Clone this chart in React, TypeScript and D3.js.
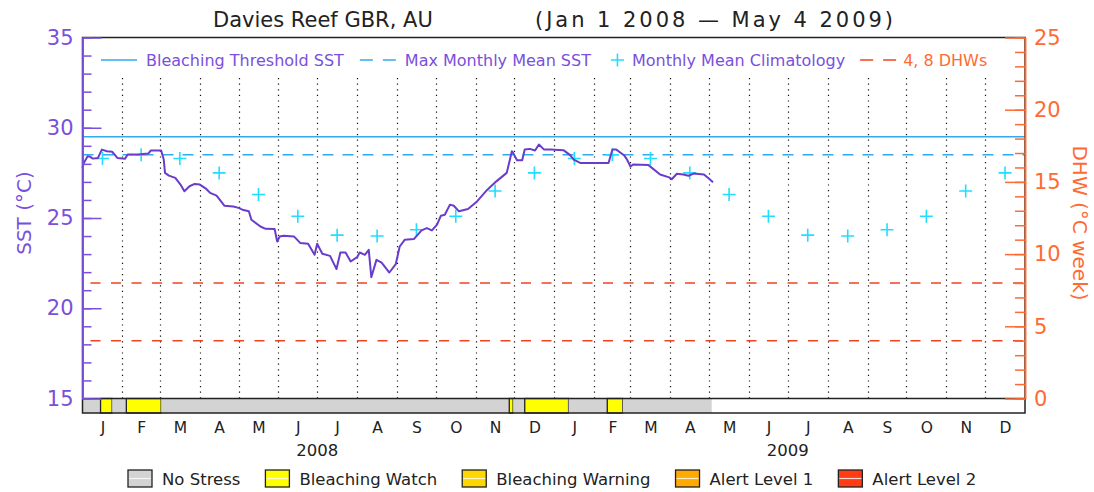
import React from "react";
import * as d3 from "d3";

// -- DATA --
const titleSite = "Davies Reef GBR, AU";
const titleRange = "(Jan 1 2008 \u2014 May 4 2009)";

const sstDates = [
  "2008-01-01", "2008-01-02", "2008-01-05", "2008-01-07", "2008-01-09", "2008-01-13",
  "2008-01-16", "2008-01-20", "2008-01-24", "2008-01-28", "2008-02-03", "2008-02-05",
  "2008-02-13", "2008-02-21", "2008-02-23", "2008-03-02", "2008-03-04", "2008-03-05",
  "2008-03-08", "2008-03-13", "2008-03-17", "2008-03-20", "2008-03-24", "2008-03-28",
  "2008-04-01", "2008-04-06", "2008-04-09", "2008-04-14", "2008-04-20", "2008-04-27",
  "2008-05-01", "2008-05-04", "2008-05-09", "2008-05-11", "2008-05-18", "2008-05-22",
  "2008-05-29", "2008-05-31", "2008-06-02", "2008-06-05", "2008-06-13", "2008-06-18",
  "2008-06-24", "2008-06-29", "2008-07-01", "2008-07-05", "2008-07-11", "2008-07-16",
  "2008-07-19", "2008-07-23", "2008-07-27", "2008-08-01", "2008-08-03", "2008-08-07",
  "2008-08-10", "2008-08-12", "2008-08-16", "2008-08-20", "2008-08-26", "2008-08-31",
  "2008-09-03", "2008-09-07", "2008-09-14", "2008-09-20", "2008-09-24", "2008-09-28",
  "2008-10-02", "2008-10-05", "2008-10-08", "2008-10-12", "2008-10-15", "2008-10-19",
  "2008-10-26", "2008-11-02", "2008-11-10", "2008-11-17", "2008-11-25", "2008-11-26",
  "2008-11-29", "2008-11-30", "2008-12-03", "2008-12-07", "2008-12-09", "2008-12-13",
  "2008-12-17", "2008-12-20", "2008-12-24", "2008-12-29", "2009-01-08", "2009-01-13",
  "2009-01-16", "2009-01-21", "2009-02-12", "2009-02-15", "2009-02-18", "2009-02-24",
  "2009-02-26", "2009-03-01", "2009-03-03", "2009-03-15", "2009-03-24", "2009-03-31",
  "2009-04-02", "2009-04-06", "2009-04-11", "2009-04-15", "2009-04-19", "2009-04-27",
  "2009-05-01", "2009-05-04"
];
const sstValues = [
  27.78, 28.05, 28.42, 28.39, 28.29, 28.33,
  28.79, 28.7, 28.67, 28.33, 28.28, 28.52,
  28.52, 28.57, 28.74, 28.74, 28.24, 27.5,
  27.35, 27.22, 26.85, 26.48, 26.76, 26.89,
  26.85, 26.61, 26.39, 26.24, 25.68, 25.64,
  25.56, 25.46, 25.37, 24.9, 24.53, 24.4,
  24.39, 23.7, 23.98, 24.02, 23.98, 23.61,
  23.57, 22.96, 23.57, 23.02, 22.9, 22.17,
  23.09, 23.09, 22.59, 22.83, 23.09, 22.96,
  23.24, 21.72, 22.68, 22.53, 21.98, 22.45,
  23.42, 23.8, 23.83, 24.31, 24.44, 24.31,
  24.63, 25.13, 25.18, 25.74, 25.68, 25.37,
  25.5, 25.92, 26.57, 27.03, 27.5, 27.78,
  28.7, 28.61, 28.2, 28.2, 28.79, 28.83,
  28.74, 29.07, 28.79, 28.79, 28.76, 28.5,
  28.24, 28.05, 28.05, 28.79, 28.79, 28.48,
  28.28, 27.85, 27.96, 27.93, 27.41, 27.25,
  27.15, 27.45, 27.41, 27.34, 27.46, 27.41,
  27.17, 26.98
];

// monthly mean climatology, Jan..Dec (same both years)
const climValues = [28.3, 28.5, 28.3, 27.5, 26.3, 25.1, 24.05, 24.0, 24.35, 25.1, 26.5, 27.5];
const bleachingThreshold = 29.5;
const maxMonthlyMean = 28.5;
const dhwLevels = [4, 8];

// bleaching status bar: segment starts and level index
const statusStarts = [
  "2008-01-01", "2008-01-15", "2008-01-24", "2008-02-04", "2008-03-02", "2008-11-27",
  "2008-11-30", "2008-12-09", "2009-01-12", "2009-02-11", "2009-02-23"
];
const statusLevels = [0, 1, 0, 1, 0, 1, 0, 1, 0, 1, 0];
const statusEnd = "2009-05-03";
const statusNames = ["No Stress", "Bleaching Watch", "Bleaching Warning", "Alert Level 1", "Alert Level 2"];
const statusColors = ["#d3d3d3", "#ffff00", "#ffd700", "#ffaa00", "#ff3c14"];

const monthLetters = ["J", "F", "M", "A", "M", "J", "J", "A", "S", "O", "N", "D"];
const years = [2008, 2009];
const sstTicks = [15, 20, 25, 30, 35];
const dhwTicks = [0, 5, 10, 15, 20, 25];

const App = () => {
  const svgRef = React.useRef(null);

  React.useEffect(() => {
    const svg = d3.select(svgRef.current);
    svg.selectAll("*").remove();
    const font = "DejaVu Sans, sans-serif";
    const purple = "#7a4fdc";
    const orange = "#ff6a33";
    const cyanLine = "#33aaee";
    const cyanMark = "#22ddff";
    const red = "#ee4422";

    const left = 82.5, right = 1025, top = 37.5, plotBottom = 398.5, barBottom = 413;
    const parse = d3.utcParse("%Y-%m-%d");
    const t0 = new Date(Date.UTC(2008, 0, 1));
    const t1 = new Date(Date.UTC(2010, 0, 1));

    const x = d3.scaleUtc().domain([t0, t1]).range([left, right]);
    const y = d3.scaleLinear().domain([15, 35]).range([plotBottom, top]);
    const yDhw = d3.scaleLinear().domain([0, 25]).range([plotBottom, top]);
    const monthStarts = d3.utcMonths(t0, d3.utcDay.offset(t1, 1));
    const midMonths = monthStarts.slice(0, -1).map((m, i) =>
      new Date((+m + +monthStarts[i + 1]) / 2)
    );

    // title
    svg.append("text").attr("x", 213).attr("y", 27).text(titleSite)
      .style("font-family", font).style("font-size", "21px").attr("fill", "#222");
    svg.append("text").attr("x", 535).attr("y", 27).text(titleRange)
      .attr("textLength", 358).attr("lengthAdjust", "spacing")
      .style("font-family", font).style("font-size", "21px").attr("fill", "#222");

    // monthly dotted grid
    svg.append("g").selectAll("line")
      .data(monthStarts.slice(1, -1))
      .enter().append("line")
      .attr("x1", (d) => Math.round(x(d)) + 0.5).attr("x2", (d) => Math.round(x(d)) + 0.5)
      .attr("y1", 78).attr("y2", plotBottom)
      .attr("stroke", "#111").attr("stroke-width", 1.2)
      .attr("stroke-dasharray", "1.2,4.4");

    // reference lines
    svg.append("line").attr("x1", left).attr("x2", right)
      .attr("y1", y(bleachingThreshold)).attr("y2", y(bleachingThreshold))
      .attr("stroke", cyanLine).attr("stroke-width", 1.5);
    svg.append("line").attr("x1", left).attr("x2", right)
      .attr("y1", y(maxMonthlyMean)).attr("y2", y(maxMonthlyMean))
      .attr("stroke", cyanLine).attr("stroke-width", 1.5).attr("stroke-dasharray", "11,9");
    svg.append("g").selectAll("line").data(dhwLevels).enter().append("line")
      .attr("x1", left + 8).attr("x2", right)
      .attr("y1", (d) => yDhw(d)).attr("y2", (d) => yDhw(d))
      .attr("stroke", red).attr("stroke-width", 1.5).attr("stroke-dasharray", "10,10.5");

    // climatology crosses
    const clim = midMonths.map((d, i) => ({ d, v: climValues[i % 12] }));
    svg.append("g").selectAll("path").data(clim).enter().append("path")
      .attr("d", (p) => {
        const cx = x(p.d), cy = y(p.v);
        return `M${cx - 6.5},${cy}H${cx + 6.5}M${cx},${cy - 6.5}V${cy + 6.5}`;
      })
      .attr("stroke", cyanMark).attr("stroke-width", 1.6).attr("fill", "none");

    // SST line
    const sst = sstDates.map((s, i) => ({ d: parse(s), v: sstValues[i] }));
    svg.append("path").datum(sst)
      .attr("d", d3.line().x((p) => x(p.d)).y((p) => y(p.v)))
      .attr("fill", "none").attr("stroke", "#6a3ccc").attr("stroke-width", 2)
      .attr("stroke-linejoin", "round");

    // status bar
    const segs = statusStarts.map((s, i) => ({
      a: parse(s),
      b: parse(i + 1 < statusStarts.length ? statusStarts[i + 1] : statusEnd),
      lvl: statusLevels[i]
    }));
    svg.append("g").selectAll("rect").data(segs).enter().append("rect")
      .attr("x", (s) => x(s.a)).attr("width", (s) => x(s.b) - x(s.a))
      .attr("y", plotBottom).attr("height", barBottom - plotBottom)
      .attr("fill", (s) => statusColors[s.lvl])
      .attr("stroke", (s) => (s.lvl > 0 ? "#222" : "none")).attr("stroke-width", 1.3);

    // frame
    svg.append("rect").attr("x", left).attr("y", top)
      .attr("width", right - left).attr("height", barBottom - top)
      .attr("fill", "none").attr("stroke", "#222").attr("stroke-width", 1.5);
    svg.append("line").attr("x1", left).attr("x2", right)
      .attr("y1", plotBottom).attr("y2", plotBottom)
      .attr("stroke", "#222").attr("stroke-width", 1.5);

    // axes
    const styleAxis = (g, color, size) => {
      g.selectAll("path").attr("stroke", color).attr("stroke-width", 1.5);
      g.selectAll("line").attr("stroke", color).attr("stroke-width", 1.5);
      g.selectAll("text").attr("fill", color)
        .style("font-family", font).style("font-size", size);
    };
    svg.append("g").attr("transform", `translate(${left},0)`)
      .call(d3.axisLeft(y).tickValues(d3.range(15, 36)).tickSize(-9).tickSizeOuter(0).tickFormat(() => ""))
      .call((g) => styleAxis(g, purple, "20px"));
    svg.append("g").attr("transform", `translate(${left},0)`)
      .call(d3.axisLeft(y).tickValues(sstTicks).tickSize(-19).tickSizeOuter(0).tickPadding(9).tickFormat(d3.format("d")))
      .call((g) => styleAxis(g, purple, "21px"));

    svg.append("g").attr("transform", `translate(${right},0)`)
      .call(d3.axisRight(yDhw).tickValues(d3.range(0, 26)).tickSize(-10).tickSizeOuter(0).tickFormat(() => ""))
      .call((g) => styleAxis(g, orange, "20px"));
    svg.append("g").attr("transform", `translate(${right},0)`)
      .call(d3.axisRight(yDhw).tickValues(dhwTicks).tickSize(-20).tickSizeOuter(0).tickPadding(9).tickFormat(d3.format("d")))
      .call((g) => styleAxis(g, orange, "21px"));

    // axis titles
    svg.append("text").attr("transform", "translate(31,213) rotate(-90)")
      .attr("text-anchor", "middle").text("SST (\u00b0C)")
      .style("font-family", font).style("font-size", "20px").attr("fill", purple);
    svg.append("text").attr("transform", "translate(1073,223) rotate(90)")
      .attr("text-anchor", "middle").text("DHW (\u00b0C week)")
      .style("font-family", font).style("font-size", "20px").attr("fill", orange);

    // month labels
    const gx = svg.append("g").attr("transform", `translate(0,${barBottom})`)
      .call(d3.axisBottom(x).tickValues(midMonths).tickSize(0).tickPadding(9)
        .tickFormat((d) => monthLetters[d.getUTCMonth()]));
    gx.select(".domain").remove();
    gx.selectAll("text").attr("fill", "#222").style("font-family", font).style("font-size", "15.5px");

    svg.append("g").selectAll("text").data(years).enter().append("text")
      .attr("x", (yr) => x(new Date(Date.UTC(yr, 6, 1)))).attr("y", 456)
      .attr("text-anchor", "middle").text((yr) => yr)
      .style("font-family", font).style("font-size", "16.5px").attr("fill", "#222");

    // top legend
    const legY = 60;
    let lx = 101;
    const legendText = (label, color, gapAfter) => {
      const t = svg.append("text").attr("x", lx).attr("y", legY + 5.5).text(label)
        .style("font-family", font).style("font-size", "16px").attr("fill", color);
      lx += t.node().getComputedTextLength() + gapAfter;
    };
    svg.append("line").attr("x1", lx).attr("x2", lx + 36).attr("y1", legY).attr("y2", legY)
      .attr("stroke", cyanLine).attr("stroke-width", 1.5);
    lx += 45;
    legendText("Bleaching Threshold SST", purple, 16);
    svg.append("line").attr("x1", lx).attr("x2", lx + 36).attr("y1", legY).attr("y2", legY)
      .attr("stroke", cyanLine).attr("stroke-width", 1.5).attr("stroke-dasharray", "13,10");
    lx += 45;
    legendText("Max Monthly Mean SST", purple, 20);
    svg.append("path")
      .attr("d", `M${lx},${legY}H${lx + 13}M${lx + 6.5},${legY - 6.5}V${legY + 6.5}`)
      .attr("stroke", cyanMark).attr("stroke-width", 1.6);
    lx += 21;
    legendText("Monthly Mean Climatology", purple, 15);
    svg.append("line").attr("x1", lx).attr("x2", lx + 36).attr("y1", legY).attr("y2", legY)
      .attr("stroke", red).attr("stroke-width", 1.5).attr("stroke-dasharray", "13,10");
    lx += 43;
    legendText("4, 8 DHWs", orange, 0);

    // bottom legend
    let bx = 128;
    statusNames.forEach((name, i) => {
      svg.append("rect").attr("x", bx).attr("y", 470).attr("width", 24).attr("height", 17)
        .attr("fill", statusColors[i]).attr("stroke", "#222").attr("stroke-width", 1.3);
      svg.append("line").attr("x1", bx + 1).attr("x2", bx + 23).attr("y1", 478.5).attr("y2", 478.5)
        .attr("stroke", "#fff").attr("stroke-width", 1.2).attr("opacity", 0.8);
      const t = svg.append("text").attr("x", bx + 34).attr("y", 485).text(name)
        .style("font-family", font).style("font-size", "16.5px").attr("fill", "#222");
      bx += 34 + t.node().getComputedTextLength() + 25;
    });
  }, []);

  return (
    <svg
      ref={svgRef}
      width={1094}
      height={492}
      style={{ position: "absolute", left: 0, top: 0, background: "#fff" }}
    />
  );
};

export default App;
